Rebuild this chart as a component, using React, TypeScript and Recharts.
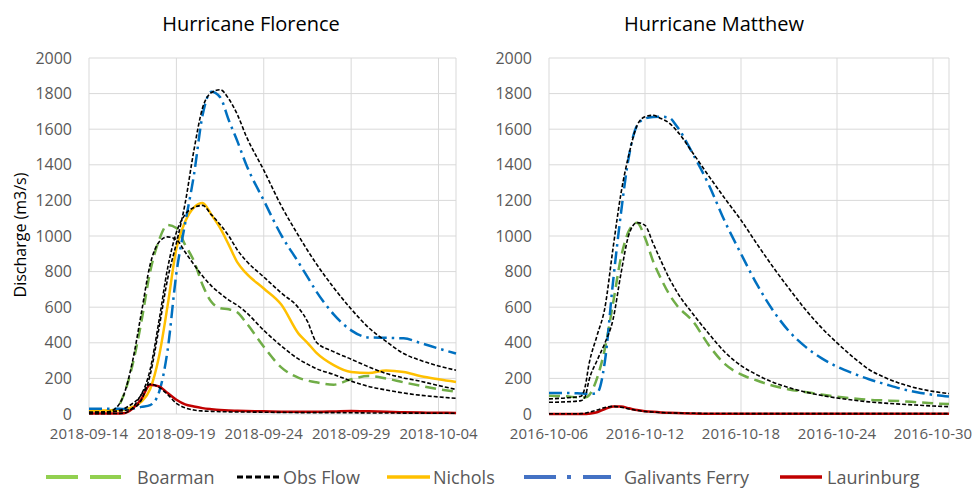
import React from "react";
import { LineChart, Line, XAxis, YAxis, CartesianGrid } from "recharts";

// Hurricane Florence (days since 2018-09-14)
const florenceDays = [0, 1, 1.5, 2, 2.5, 3, 3.5, 4, 4.5, 5, 5.5, 6, 6.5, 7, 7.5, 8, 8.5, 9, 10, 11, 12, 12.5, 13, 14, 15, 16, 17, 18, 19, 20, 21];
const florenceBoarman = [18, 18, 25, 110, 280, 520, 800, 975, 1062, 1045, 950, 860, 725, 630, 595, 588, 570, 512, 378, 262, 203, 188, 178, 165, 195, 213, 200, 178, 158, 140, 125];
const florenceBoarmanObs = [8, 10, 30, 110, 300, 570, 840, 965, 995, 980, 910, 840, 775, 720, 677, 640, 610, 570, 470, 383, 308, 280, 255, 222, 185, 155, 135, 118, 105, 96, 88];
const florenceNichols = [20, 20, 20, 22, 40, 70, 140, 320, 610, 930, 1080, 1160, 1185, 1120, 1045, 950, 850, 790, 705, 615, 450, 400, 345, 275, 236, 230, 245, 236, 212, 195, 180];
const florenceNicholsObs = [8, 10, 15, 30, 60, 110, 250, 520, 820, 1020, 1120, 1160, 1172, 1120, 1065, 1000, 920, 860, 770, 680, 595, 520, 405, 350, 308, 265, 228, 203, 183, 160, 138];
const florenceGalivants = [30, 30, 30, 28, 30, 40, 50, 120, 360, 790, 1070, 1340, 1680, 1810, 1780, 1650, 1530, 1400, 1200, 1005, 850, 770, 690, 560, 470, 430, 428, 425, 398, 368, 340];
const florenceGalivantsObs = [10, 12, 15, 20, 30, 80, 220, 480, 760, 960, 1183, 1480, 1720, 1805, 1822, 1770, 1680, 1560, 1370, 1170, 1000, 920, 845, 710, 590, 485, 408, 340, 300, 270, 246];
const florenceLaurinburg = [3, 3, 3, 4, 30, 85, 165, 155, 118, 80, 54, 42, 33, 27, 22, 19, 18, 17, 15, 13, 12, 12, 12, 14, 17, 15, 12, 10, 8, 7, 6];
const florenceLaurinburgObs = [2, 2, 3, 5, 35, 110, 168, 150, 110, 60, 35, 22, 17, 15, 13, 12, 11, 11, 10, 9, 8, 8, 8, 8, 7, 6, 6, 5, 5, 4, 4];
const florenceTicks = [0, 5, 10, 15, 20];
const florenceTickLabels = ["2018-09-14", "2018-09-19", "2018-09-24", "2018-09-29", "2018-10-04"];

// Hurricane Matthew (days since 2016-10-06)
const matthewDays = [0, 1, 2, 2.25, 2.5, 3, 3.5, 4, 4.5, 5, 5.5, 6, 6.5, 7, 7.5, 8, 9, 10, 11, 12, 13, 14, 15, 16, 17, 18, 19, 20, 21, 22, 23, 24, 25];
const matthewBoarman = [103, 100, 92, 92, 105, 200, 370, 620, 880, 1030, 1075, 990, 860, 760, 675, 610, 520, 385, 280, 222, 188, 159, 138, 124, 110, 97, 88, 80, 76, 72, 66, 60, 56];
const matthewBoarmanObs = [66, 68, 75, 95, 190, 300, 400, 530, 790, 1010, 1075, 1060, 960, 860, 765, 685, 562, 450, 347, 272, 220, 178, 148, 124, 105, 90, 78, 68, 61, 55, 50, 45, 41];
const matthewGalivants = [118, 118, 115, 114, 113, 118, 300, 740, 1130, 1450, 1620, 1660, 1668, 1670, 1665, 1615, 1460, 1285, 1080, 900, 728, 582, 465, 380, 315, 266, 228, 195, 168, 142, 122, 108, 98];
const matthewGalivantsObs = [85, 90, 100, 150, 280, 440, 600, 930, 1240, 1460, 1620, 1670, 1678, 1660, 1636, 1590, 1465, 1335, 1210, 1089, 955, 826, 705, 590, 488, 400, 320, 250, 205, 170, 145, 127, 115];
const matthewLaurinburg = [0, 0, 0, 0, 2, 10, 28, 42, 42, 32, 22, 16, 12, 9, 7, 5, 3, 2, 2, 1, 1, 1, 1, 1, 1, 1, 1, 1, 1, 1, 1, 1, 1];
const matthewLaurinburgObs = [1, 1, 2, 4, 10, 22, 36, 43, 38, 28, 20, 14, 11, 8, 6, 5, 4, 3, 3, 2, 2, 2, 2, 2, 2, 2, 2, 2, 2, 2, 2, 2, 2];
const matthewTicks = [0, 6, 12, 18, 24];
const matthewTickLabels = ["2016-10-06", "2016-10-12", "2016-10-18", "2016-10-24", "2016-10-30"];

const yTicks = [0, 200, 400, 600, 800, 1000, 1200, 1400, 1600, 1800, 2000];

const florenceData = florenceDays.map((t, i) => ({
  t,
  boarman: florenceBoarman[i],
  boarmanObs: florenceBoarmanObs[i],
  nichols: florenceNichols[i],
  nicholsObs: florenceNicholsObs[i],
  galivants: florenceGalivants[i],
  galivantsObs: florenceGalivantsObs[i],
  laurinburg: florenceLaurinburg[i],
  laurinburgObs: florenceLaurinburgObs[i],
}));

const matthewData = matthewDays.map((t, i) => ({
  t,
  boarman: matthewBoarman[i],
  boarmanObs: matthewBoarmanObs[i],
  galivants: matthewGalivants[i],
  galivantsObs: matthewGalivantsObs[i],
  laurinburg: matthewLaurinburg[i],
  laurinburgObs: matthewLaurinburgObs[i],
}));

const GREEN = "#70AD47";
const GOLD = "#FFC000";
const BLUE = "#0070C0";
const RED = "#C00000";
const GRID = "#D9D9D9";
const TICK = { fill: "#595959", fontSize: 15 };

const obsStyle = { stroke: "#000", strokeWidth: 1.6, strokeDasharray: "4 2" };

const Panel = ({ data, ticks, labels, maxDay, yWidth, plotWidth, right, hasNichols }: any) => (
  <LineChart
    width={yWidth + plotWidth + right}
    height={445}
    data={data}
    margin={{ top: 58, right, bottom: 0, left: 0 }}
  >
    <CartesianGrid stroke={GRID} />
    <XAxis
      dataKey="t"
      type="number"
      domain={[0, maxDay]}
      ticks={ticks}
      interval={0}
      tickFormatter={(v: number) => labels[ticks.indexOf(v)]}
      axisLine={false}
      tickLine={false}
      tickSize={0}
      tickMargin={14}
      height={31}
      tick={TICK}
    />
    <YAxis
      domain={[0, 2000]}
      ticks={yTicks}
      interval={0}
      axisLine={false}
      tickLine={false}
      tickSize={0}
      tickMargin={17}
      width={yWidth}
      tick={{ ...TICK, fontSize: 16 }}
    />
    <Line type="monotone" dataKey="boarman" stroke={GREEN} strokeWidth={2.5} strokeDasharray="11 6" dot={false} isAnimationActive={false} />
    {hasNichols && (
      <Line type="monotone" dataKey="nichols" stroke={GOLD} strokeWidth={2.5} dot={false} isAnimationActive={false} />
    )}
    <Line type="monotone" dataKey="galivants" stroke={BLUE} strokeWidth={2.5} strokeDasharray="13 5 2.5 5" dot={false} isAnimationActive={false} />
    <Line type="monotone" dataKey="laurinburg" stroke={RED} strokeWidth={2.5} dot={false} isAnimationActive={false} />
    <Line type="monotone" dataKey="boarmanObs" {...obsStyle} dot={false} isAnimationActive={false} />
    {hasNichols && (
      <Line type="monotone" dataKey="nicholsObs" {...obsStyle} dot={false} isAnimationActive={false} />
    )}
    <Line type="monotone" dataKey="galivantsObs" {...obsStyle} dot={false} isAnimationActive={false} />
    <Line type="monotone" dataKey="laurinburgObs" {...obsStyle} dot={false} isAnimationActive={false} />
  </LineChart>
);

const legendItems = [
  { name: "Boarman", x1: 46, x2: 121, tx: 137, color: "#92D050", dash: "32 12", width: 4 },
  { name: "Obs Flow", x1: 237, x2: 282, tx: 283, color: "#000", dash: "6 3", width: 3 },
  { name: "Nichols", x1: 387, x2: 430, tx: 433, color: GOLD, dash: undefined, width: 3.5 },
  { name: "Galivants Ferry", x1: 524, x2: 611, tx: 624, color: "#4472C4", dash: "32 11 4 12", width: 4 },
  { name: "Laurinburg", x1: 780, x2: 822, tx: 827, color: RED, dash: undefined, width: 3.5 },
];

export default function App() {
  return (
    <div style={{ position: "absolute", left: 0, top: 0, width: 976, height: 489, background: "#fff", fontFamily: "'Open Sans', sans-serif" }}>
      <div style={{ position: "absolute", left: 0, top: 0 }}>
        <Panel data={florenceData} ticks={florenceTicks} labels={florenceTickLabels} maxDay={21} yWidth={89} plotWidth={367} right={24} hasNichols />
      </div>
      <div style={{ position: "absolute", left: 480, top: 0 }}>
        <Panel data={matthewData} ticks={matthewTicks} labels={matthewTickLabels} maxDay={25} yWidth={69} plotWidth={400} right={27} hasNichols={false} />
      </div>
      <svg width={976} height={489} style={{ position: "absolute", left: 0, top: 0, pointerEvents: "none" }}>
        <text x={251} y={31} textAnchor="middle" fontSize={20} fill="#000">Hurricane Florence</text>
        <text x={714} y={31} textAnchor="middle" fontSize={20} fill="#000">Hurricane Matthew</text>
        <text x={26} y={235} textAnchor="middle" fontSize={16} fill="#000" transform="rotate(-90 26 235)">Discharge (m3/s)</text>
        {legendItems.map((it) => (
          <g key={it.name}>
            <line x1={it.x1} x2={it.x2} y1={477} y2={477} stroke={it.color} strokeWidth={it.width} strokeDasharray={it.dash} />
            <text x={it.tx} y={484} fontSize={18} fill="#595959">{it.name}</text>
          </g>
        ))}
      </svg>
    </div>
  );
}
